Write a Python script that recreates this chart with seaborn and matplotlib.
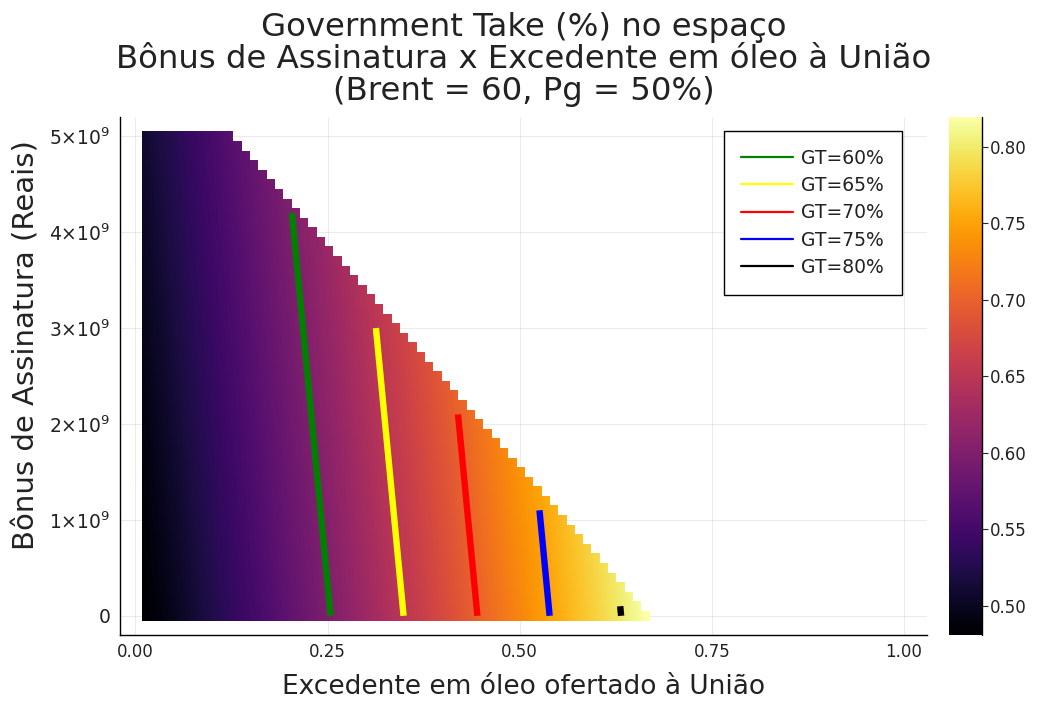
import numpy as np
import pandas as pd
import matplotlib
matplotlib.use("Agg")
import matplotlib.pyplot as plt
from matplotlib.lines import Line2D
from matplotlib.patches import Polygon
from matplotlib.ticker import FormatStrFormatter
import seaborn as sns

# Grid of the study: excess-oil share offered to the Union (x) and signature bonus (y)
excess_share = np.linspace(0.0135, 1.0, 92)
bonus = np.arange(0, 51) * 1e8

# Government take along the zero-bonus row
gt_share_pts = [0.01, 0.254, 0.349, 0.445, 0.539, 0.632, 0.67]
gt_values = [0.479, 0.60, 0.65, 0.70, 0.75, 0.80, 0.823]
# shift of the take towards lower shares per 1e9 R$ of bonus
bonus_shift = 0.012

# last feasible excess-oil share for each bonus level
frontier_bonus = [0, 1e9, 2e9, 3e9, 4e9, 5e9]
frontier_share = [0.672, 0.565, 0.455, 0.345, 0.237, 0.13]

# iso-take curves
levels = [0.60, 0.65, 0.70, 0.75, 0.80]
level_labels = ["GT=60%", "GT=65%", "GT=70%", "GT=75%", "GT=80%"]
level_colors = ["#008000", "#ffff00", "#ff0000", "#0000ff", "#000000"]
level_top_bonus = [4.2e9, 3.0e9, 2.1e9, 1.1e9, 0.1e9]

xticks = [0.00, 0.25, 0.50, 0.75, 1.00]
yticks = [0, 1e9, 2e9, 3e9, 4e9, 5e9]
ytick_labels = ["0", r"$1{\times}10^{9}$", r"$2{\times}10^{9}$", r"$3{\times}10^{9}$",
                r"$4{\times}10^{9}$", r"$5{\times}10^{9}$"]
cbar_ticks = [0.50, 0.55, 0.60, 0.65, 0.70, 0.75, 0.80]

title = ("Government Take (%) no espaço\n"
         "Bônus de Assinatura x Excedente em óleo à União\n"
         "(Brent = 60, Pg = 50%)")
xlabel = "Excedente em óleo ofertado à União"
ylabel = "Bônus de Assinatura (Reais)"

sns.set_theme(style="white")
plt.rcParams["font.family"] = ["DejaVu Sans"]
plt.rcParams["mathtext.fontset"] = "dejavusans"


def take(share, bon):
    """Government take for an excess-oil share and a bonus."""
    return np.interp(share + bonus_shift * bon / 1e9, gt_share_pts, gt_values)


# ---- take on the cells, and the feasible frontier of each bonus row
dx = excess_share[1] - excess_share[0]
db = bonus[1] - bonus[0]
X, Y = np.meshgrid(excess_share, bonus)
limit = np.interp(bonus, frontier_bonus, frontier_share)
feasible = X <= limit[:, None] + 1e-9
Z = np.where(feasible, take(X, Y), np.nan)
vmin, vmax = np.nanmin(Z), np.nanmax(Z)

# staircase outline of the feasible cells
x_left = excess_share[0] - dx / 2
verts = [(x_left, bonus[0] - db / 2)]
for i, b in enumerate(bonus):
    last = excess_share[feasible[i]].max()
    verts.append((last + dx / 2, b - db / 2))
    verts.append((last + dx / 2, b + db / 2))
verts.append((x_left, bonus[-1] + db / 2))

W, H = 1044, 701
fig = plt.figure(figsize=(W / 100, H / 100), dpi=100)
ax = fig.add_axes([120 / W, 1 - 635 / H, 807 / W, 518 / H])
cax = fig.add_axes([949 / W, 1 - 635 / H, 33 / W, 518 / H])

# smooth shading of the take field, cut to the feasible staircase
xs = np.linspace(x_left, excess_share[-1] + dx / 2, 600)
bs = np.linspace(bonus[0] - db / 2, bonus[-1] + db / 2, 300)
XS, BS = np.meshgrid(xs, bs)
mesh = ax.pcolormesh(XS, BS, take(XS, BS), cmap="inferno", shading="gouraud",
                     vmin=vmin, vmax=vmax)
clip = Polygon(verts, closed=True, transform=ax.transData, facecolor="none",
               edgecolor="none")
ax.add_patch(clip)
mesh.set_clip_path(clip)

# ---- iso-take lines
for lvl, lab, col, top in zip(levels, level_labels, level_colors, level_top_bonus):
    b = np.linspace(0, top, 12)
    x0 = np.interp(lvl, gt_values, gt_share_pts)
    df = pd.DataFrame({"share": x0 - bonus_shift * b / 1e9, "bonus": b})
    sns.lineplot(data=df, x="share", y="bonus", color=col, linewidth=4.6,
                 sort=False, estimator=None, ax=ax, solid_capstyle="butt",
                 legend=False)

ax.set_xlim(-0.02, 1.03)
ax.set_ylim(-0.2e9, 5.2e9)
ax.set_xticks(xticks)
ax.xaxis.set_major_formatter(FormatStrFormatter("%.2f"))
ax.set_yticks(yticks)
ax.set_yticklabels(ytick_labels)
ax.grid(True, color="#000000", alpha=0.08, linewidth=0.8)
ax.set_axisbelow(True)
for s in ["top", "right"]:
    ax.spines[s].set_visible(False)
for s in ["left", "bottom"]:
    ax.spines[s].set_color("black")
    ax.spines[s].set_linewidth(1.0)
ax.tick_params(direction="in", length=5, width=0.8, color="black",
               labelsize=12, pad=6, labelcolor="#222222")
ax.tick_params(axis="y", labelsize=13.5, pad=7)
ax.set_xlabel(xlabel, fontsize=19, color="#222222", labelpad=9)
ax.set_ylabel(ylabel, fontsize=21, color="#222222", labelpad=6)
ax.yaxis.label.set_y(0.56)
ax.set_title(title, fontsize=23.3, color="#222222", linespacing=1.05, pad=12)

handles = [Line2D([], [], color=c, lw=1.6) for c in level_colors]
leg = ax.legend(handles, level_labels, loc="upper right",
                bbox_to_anchor=(0.969, 0.973), borderaxespad=0,
                fontsize=13.5, handlelength=2.75, handletextpad=0.45,
                labelspacing=0.44, borderpad=0.95, fancybox=False,
                framealpha=1, edgecolor="black")
leg.get_frame().set_linewidth(1.0)
for t in leg.get_texts():
    t.set_color("#222222")

# ---- colour bar
cb = fig.colorbar(mesh, cax=cax, ticks=cbar_ticks)
cb.outline.set_visible(False)
cax.add_line(Line2D([1, 1], [0, 1], transform=cax.transAxes,
                    color="black", lw=1.0, clip_on=False))
cax.yaxis.set_major_formatter(FormatStrFormatter("%.2f"))
cax.tick_params(direction="out", length=4, width=0.8, labelsize=12,
                pad=2, labelcolor="#222222", right=True)

fig.savefig("out.png", dpi=100)
